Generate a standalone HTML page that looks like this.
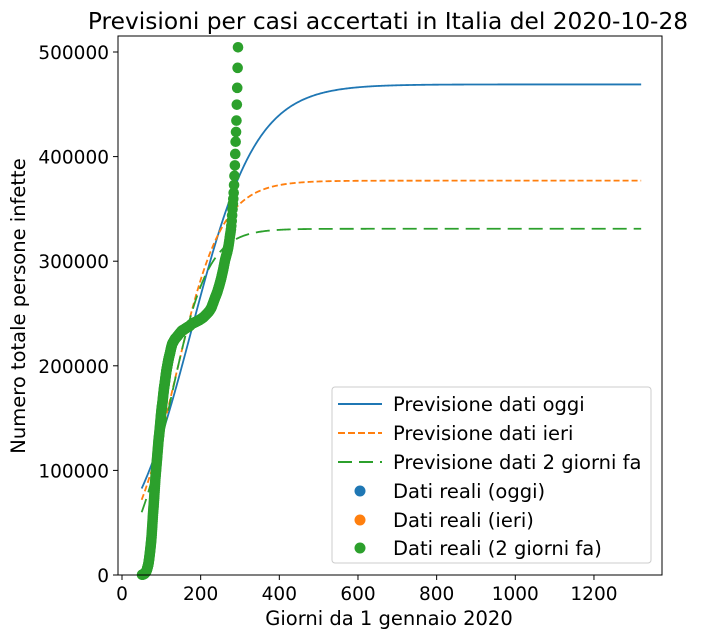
<!DOCTYPE html>
<html><head><meta charset="utf-8"><style>
body{margin:0;background:#fff;}
svg text{font-family:"DejaVu Sans","Liberation Sans",sans-serif;fill:#000;}
</style></head><body>
<svg id="chart" width="701" height="638" viewBox="0 0 701 638" xmlns="http://www.w3.org/2000/svg">
<text x="388" y="29" font-size="23.3" text-anchor="middle">Previsioni per casi accertati in Italia del 2020-10-28</text>
<g id="plot"></g>
<rect x="118" y="36" width="544" height="539" fill="none" stroke="#000" stroke-width="1"/>
<g id="axes"></g>
<text x="389" y="625" font-size="19.5" text-anchor="middle">Giorni da 1 gennaio 2020</text>
<text transform="translate(25,306) rotate(-90)" font-size="19.5" text-anchor="middle">Numero totale persone infette</text>
<g id="legend">
<rect x="332" y="387" width="319" height="176" rx="3" fill="#fff" fill-opacity="0.8" stroke="#ccc"/>
<line x1="338" y1="404" x2="382" y2="404" stroke="#1f77b4" stroke-width="2"/>
<text x="393" y="411" font-size="19.5">Previsione dati oggi</text>
<line x1="338" y1="433" x2="382" y2="433" stroke="#ff7f0e" stroke-width="2" stroke-dasharray="7 3"/>
<text x="393" y="440" font-size="19.5">Previsione dati ieri</text>
<line x1="338" y1="462" x2="382" y2="462" stroke="#2ca02c" stroke-width="2" stroke-dasharray="14 7"/>
<text x="393" y="469" font-size="19.5">Previsione dati 2 giorni fa</text>
<circle cx="360" cy="491" r="5.5" fill="#1f77b4"/>
<text x="393" y="498" font-size="19.5">Dati reali (oggi)</text>
<circle cx="360" cy="520" r="5.5" fill="#ff7f0e"/>
<text x="393" y="527" font-size="19.5">Dati reali (ieri)</text>
<circle cx="360" cy="548" r="5.5" fill="#2ca02c"/>
<text x="393" y="555" font-size="19.5">Dati reali (2 giorni fa)</text>
</g>
</svg>
<script>
const xTicks=[0,200,400,600,800,1000,1200];
const yTicks=[0,100000,200000,300000,400000,500000];
// logistic model parameters [L, k, x0] per forecast
const modelToday=[469000,0.01214,177];
const modelYesterday=[377000,0.0169,135.5];
const model2Days=[331000,0.0208,122.5];
const modelRange=[50,1320];
const realDays=[51,54,57,59,61,63,65,67,69,71,73,75,77,79,81,83,85,87,89,91,93,95,97,99,101,103,105,107,109,111,113,115,117,119,122,125,128,131,135,139,143,147,152,157,162,167,172,177,182,187,192,197,202,207,212,217,222,227,232,237,242,247,252,257,262,267,270,271,272,273,274,275,276,277,278,279,280,281,282,283,284,285,286,287,288,289,290,291,292,293,294,295];
const realValues=[229,650,1128,2036,3089,4636,7375,10149,15113,21157,27980,35713,47021,59138,69176,80539,92472,101739,110574,119827,128948,135586,143626,152271,159516,165155,172434,178972,183957,189973,195351,199414,203591,207428,211938,217185,221216,223096,225886,227364,229327,231139,233515,234531,235763,236989,238011,239961,240961,241819,242827,243736,245032,246286,248229,250103,252235,255278,260298,265409,270189,276338,283180,291442,300897,308104,313011,314861,317409,319908,322751,325329,327586,330263,333940,338398,343770,349494,354950,359569,365467,372799,381602,391611,402536,414241,423578,434449,449648,465726,484869,504509];

const X=d=>122+d*0.3933;
const Y=v=>575-v*523/500000;
const NS='http://www.w3.org/2000/svg';
const plot=document.getElementById('plot'), axes=document.getElementById('axes');
function mk(tag,attrs,parent){const e=document.createElementNS(NS,tag);for(const k in attrs)e.setAttribute(k,attrs[k]);parent.appendChild(e);return e;}

xTicks.forEach(t=>{
  const l=mk('line',{x1:X(t),x2:X(t),y1:575,y2:580,stroke:'#000'},axes);
  
  
  const tx=mk('text',{x:X(t),y:600,'font-size':'18.5','text-anchor':'middle'},axes);tx.textContent=t;
  
  
});
yTicks.forEach(t=>{
  const l=mk('line',{x1:113,x2:118,y1:Y(t),y2:Y(t),stroke:'#000'},axes);
  
  
  const tx=mk('text',{x:109,y:Y(t)+7,'font-size':'18.5','text-anchor':'end'},axes);tx.textContent=t;
  
  
});
function curve(p,color,dash,name){
  let d='';
  for(let x=modelRange[0];x<=modelRange[1];x+=2){
    const v=p[0]/(1+Math.exp(-p[1]*(x-p[2])));
    d+=(d?'L':'M')+X(x).toFixed(2)+','+Y(v).toFixed(2);
  }
  const e=mk('path',{d:d,fill:'none',stroke:color,'stroke-width':'1.8'},plot);
  if(dash)e.setAttribute('stroke-dasharray',dash);
  
  
}
curve(modelToday,'#1f77b4',null,'forecast-today-line');
curve(modelYesterday,'#ff7f0e','6 3','forecast-yesterday-line');
curve(model2Days,'#2ca02c','14 7','forecast-2days-line');
realDays.forEach((d,i)=>{
  const c=mk('circle',{cx:X(d),cy:Y(realValues[i]),r:5.3,fill:'#2ca02c'},plot);
  
  
});
for(let i=0;i<realDays.length-1;i++){
  if(realDays[i]>=270)break;
  const steps=6;
  for(let s=1;s<steps;s++){
    const f=s/steps;
    const c=mk('circle',{cx:X(realDays[i]+(realDays[i+1]-realDays[i])*f),cy:Y(realValues[i]+(realValues[i+1]-realValues[i])*f),r:5.3,fill:'#2ca02c'},plot);
    
    
  }
}
</script>
</body></html>
